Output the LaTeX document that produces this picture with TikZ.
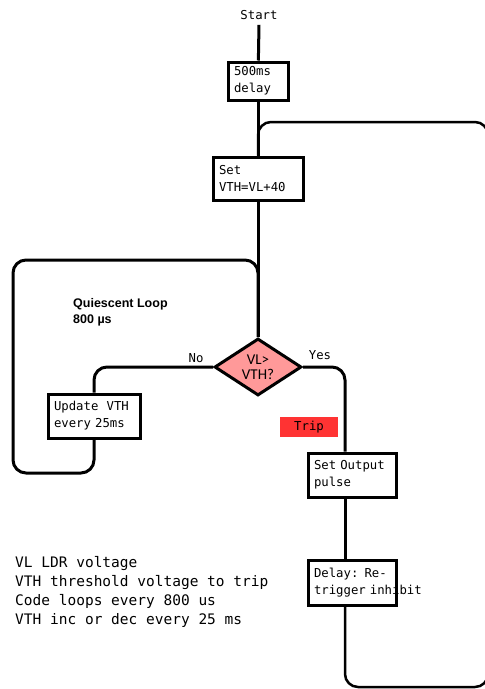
\documentclass[tikz,border=0pt]{standalone}
\usepackage{fontspec}
\setmonofont{DejaVu Sans Mono}[WordSpace={1,0,0}]
\setsansfont{Liberation Sans}
\newfontfamily\calib{Carlito}
\usetikzlibrary{shapes.geometric}
\definecolor{diafill}{HTML}{FF9999}
\definecolor{tripred}{HTML}{FF3333}
\newcommand{\boxfont}{\ttfamily\fontsize{12.3}{17}\selectfont}

\begin{document}
\begin{tikzpicture}[x=1pt,y=-1pt,
  box/.style={draw, line width=3pt, align=left, inner xsep=6pt, inner ysep=0pt, font=\boxfont},
  flow/.style={line width=3pt, rounded corners=13pt},
  lbl/.style={inner sep=0pt, font=\boxfont}]
\useasboundingbox (0,0) rectangle (485,689);
% main column
\node[lbl] (start) at (259,15) {Start};
\node[box, text width=48pt, minimum height=38pt] (d500) at (258,81) {500ms\\delay};
\node[box, text width=78pt, minimum height=43pt] (setvth) at (258,178.5) {Set\\VTH=VL+40};
\node[diamond, draw, line width=3pt, fill=diafill, aspect=1.5, inner sep=0pt,
  minimum width=87pt, minimum height=57pt, align=center,
  font=\calib\fontsize{15}{15.5}\selectfont] (dia) at (258,367) {VL>\\VTH?};
\draw[line width=3pt] (start.south) ++(0,5) -- (d500);
\draw[line width=3pt] (d500) -- (setvth);
\draw[line width=3pt] (setvth) -- (dia);
% quiescent loop
\node[box, text width=80pt, minimum height=44pt] (update) at (94,416) {Update~~VTH\\every 25ms};
\node[lbl] (no) at (196,358) {No};
\draw[flow] (dia.west) -| (update.north);
\coordinate (lbl1) at (13,473);
\coordinate (ltl) at (13,260);
\draw[flow] (update.south) |- (lbl1) -- (ltl) -| (dia.north);
\node[anchor=west, align=left, inner sep=0pt, font=\sffamily\bfseries\fontsize{12.5}{15.5}\selectfont]
  (quiet) at (73,312.5) {Quiescent Loop\\800 µs};
% trip branch
\node[lbl] (yes) at (320,355) {Yes};
\node[fill=tripred, minimum width=58pt, minimum height=20pt, inner sep=0pt, font=\boxfont] (trip) at (309,427) {Trip};
\node[box, text width=76pt, minimum height=44pt] (setout) at (352,475) {Set Output\\pulse};
\node[box, text width=76pt, minimum height=45pt] (rdelay) at (352,582.5) {Delay: Re-\\trigger~inhibit};
\draw[flow] (dia.east) -| ([xshift=-7pt]setout.north);
\draw[line width=3pt] ([xshift=-7pt]setout.south) -- ([xshift=-7pt]rdelay.north);
\coordinate (rbr) at (488,687);
\coordinate (rtr) at (488,122);
\draw[flow, line width=2.5pt] ([xshift=-7pt]rdelay.south) |- (rbr) -- (rtr) -| (setvth.north);
% notes
\node[anchor=north west, align=left, inner sep=0pt, font=\ttfamily\fontsize{14.5}{19}\selectfont]
  (notes) at (15,556) {VL LDR voltage\\VTH threshold voltage to trip\\Code loops every 800 us\\VTH inc or dec every 25 ms};
\end{tikzpicture}
\end{document}
